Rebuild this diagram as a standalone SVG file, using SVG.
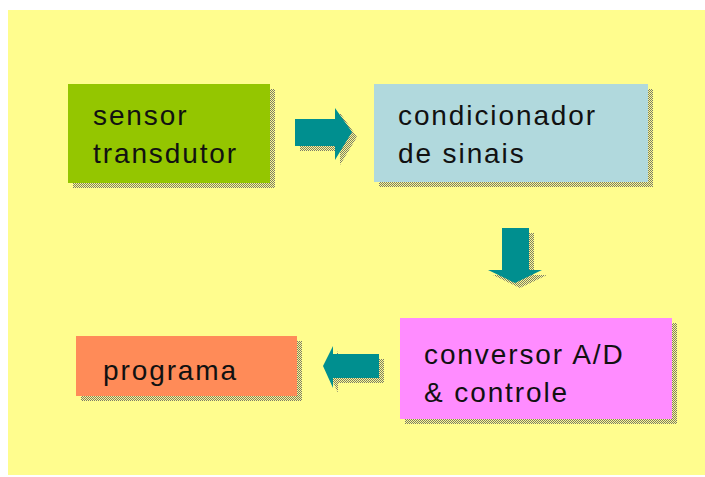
<svg xmlns="http://www.w3.org/2000/svg" width="705" height="477" viewBox="0 0 705 477">
  <defs>
    <pattern id="dots" width="2" height="2" patternUnits="userSpaceOnUse">
      <rect width="1" height="1" fill="#7a7a6a"/>
      <rect x="1" y="1" width="1" height="1" fill="#7a7a6a"/>
    </pattern>
    <style>
      .lbl { font-family: "Liberation Sans", Arial, sans-serif; font-size: 28px; fill: #111; letter-spacing: 1.9px; }
      .shadow { fill: url(#dots); }
      .arrow { fill: #008f8f; }
    </style>
  </defs>
  <rect x="0" y="0" width="705" height="477" fill="#ffffff"/>
  <rect x="8" y="10" width="697" height="465" fill="#fffd8e"/>

  <g id="sensor">
    <rect class="shadow" x="73" y="89" width="202" height="99"/>
    <rect x="68" y="84" width="202" height="99" fill="#94c600"/>
    <text class="lbl" x="93" y="125">sensor</text>
    <text class="lbl" x="93" y="163">transdutor</text>
  </g>

  <g id="condicionador">
    <rect class="shadow" x="379" y="89" width="274" height="98"/>
    <rect x="374" y="84" width="274" height="98" fill="#b1d9dd"/>
    <text class="lbl" x="398" y="125">condicionador</text>
    <text class="lbl" x="398" y="163">de sinais</text>
  </g>

  <g id="conversor">
    <rect class="shadow" x="405" y="323" width="272" height="101"/>
    <rect x="400" y="318" width="272" height="101" fill="#ff8cff"/>
    <text class="lbl" x="424" y="364">conversor A/D</text>
    <text class="lbl" x="424" y="402">&amp; controle</text>
  </g>

  <g id="programa">
    <rect class="shadow" x="81" y="341" width="221" height="60"/>
    <rect x="76" y="336" width="221" height="60" fill="#ff8b58"/>
    <text class="lbl" x="103" y="380">programa</text>
  </g>

  <g id="connectors">
    <g id="arrow-right">
      <path class="shadow" d="M300 124 H340 V113 L357 137 L340 165 V151 H300 Z"/>
      <path class="arrow" d="M295 119 H335 V108 L352 132 L335 160 V146 H295 Z"/>
    </g>
    <g id="arrow-down">
      <path class="shadow" d="M507 233 H534 V275 H547 L520 288 L493 275 H507 Z"/>
      <path class="arrow" d="M502 228 H529 V270 H542 L515 283 L488 270 H502 Z"/>
    </g>
    <g id="arrow-left">
      <path class="shadow" d="M384 359 V383 H338 V393 L328 371 L338 351 V359 Z"/>
      <path class="arrow" d="M379 354 V378 H333 V388 L323 366 L333 346 V354 Z"/>
    </g>
  </g>
</svg>
